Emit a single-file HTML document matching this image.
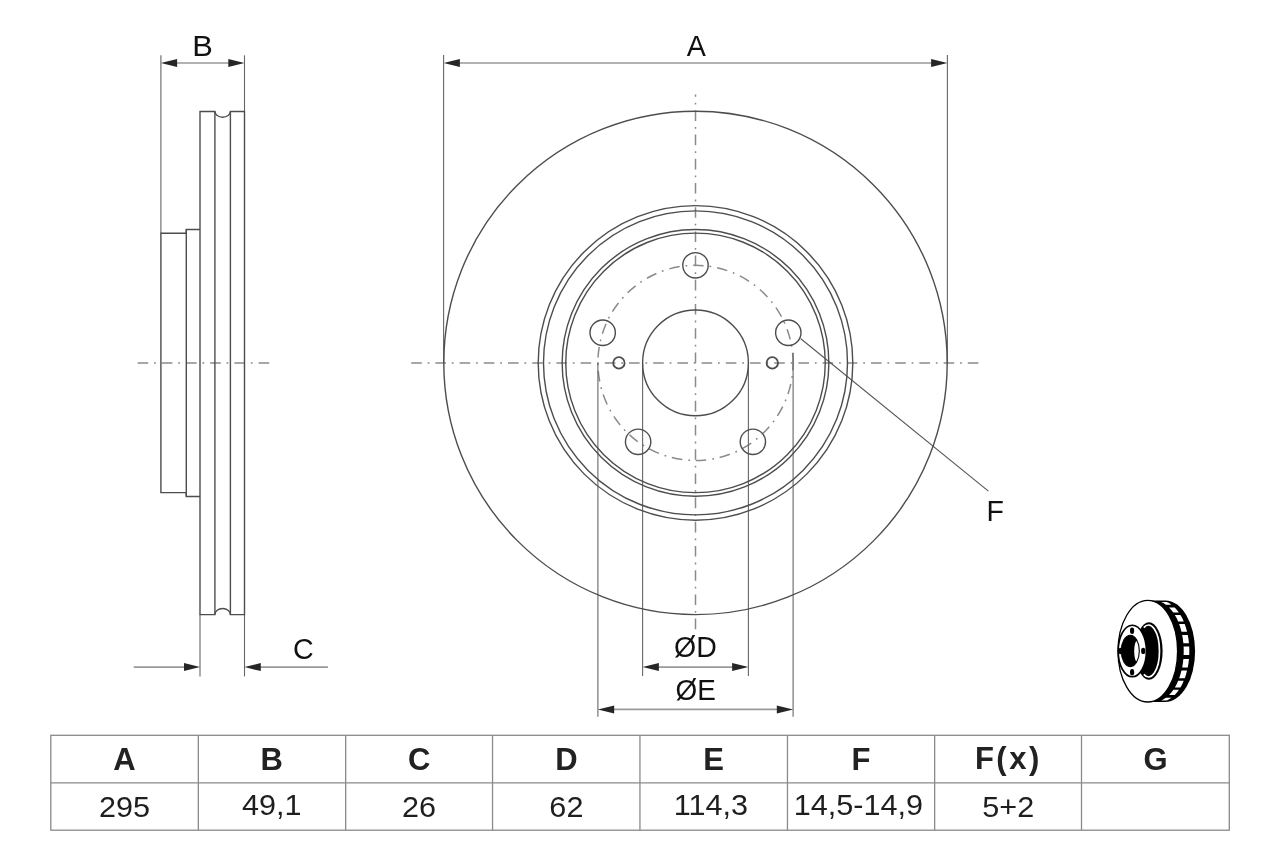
<!DOCTYPE html>
<html><head><meta charset="utf-8">
<style>
html,body{margin:0;padding:0;background:#fff;width:1280px;height:853px;overflow:hidden}
svg{display:block}
text{font-family:"Liberation Sans",sans-serif}
svg{will-change:transform}
</style></head>
<body>
<svg width="1280" height="853" viewBox="0 0 1280 853">
<rect width="1280" height="853" fill="#fff"/>

<!-- ===== centerlines ===== -->
<g stroke="#8a8a8a" stroke-width="1.5" fill="none" stroke-dasharray="10.6 5.8 1.8 6">
  <line x1="137.6" y1="363" x2="270" y2="363"/>
  <line x1="411.2" y1="363" x2="979" y2="363"/>
  <line x1="695.5" y1="629.2" x2="695.5" y2="94.5"/>
  <circle cx="695.5" cy="362.9" r="97.6" stroke-dashoffset="3"/>
</g>

<!-- ===== extension lines ===== -->
<g stroke="#666" stroke-width="1.1" fill="none">
  <line x1="160.9" y1="55.3" x2="160.9" y2="233.3"/>
  <line x1="244.5" y1="55.3" x2="244.5" y2="111.5"/>
  <line x1="200" y1="614.6" x2="200" y2="676.4"/>
  <line x1="244.5" y1="614.6" x2="244.5" y2="676.4"/>
  <line x1="443.6" y1="55" x2="443.6" y2="362.9"/>
  <line x1="947.4" y1="55" x2="947.4" y2="362.9"/>
  <line x1="642.6" y1="362.9" x2="642.6" y2="676"/>
  <line x1="748.4" y1="362.9" x2="748.4" y2="676"/>
  <line x1="597.9" y1="362.9" x2="597.9" y2="716.8"/>
  <line x1="793.1" y1="352.8" x2="793.1" y2="716.8"/>
  <line x1="800.8" y1="338.8" x2="988.4" y2="491.1" stroke="#555"/>
</g>

<!-- ===== dimension lines ===== -->
<g stroke="#999" stroke-width="1.6" fill="none">
  <line x1="170" y1="63" x2="236" y2="63"/>
  <line x1="452" y1="63" x2="939" y2="63"/>
  <line x1="133.7" y1="667.1" x2="192" y2="667.1"/>
  <line x1="252" y1="667.1" x2="327.9" y2="667.1"/>
  <line x1="650" y1="667.1" x2="741" y2="667.1"/>
  <line x1="605" y1="709.4" x2="786" y2="709.4"/>
</g>
<g fill="#262626">
  <!-- B -->
  <path d="M160.9 63 L177.1 59 L177.1 67 Z"/>
  <path d="M244.5 63 L228.3 59 L228.3 67 Z"/>
  <!-- A -->
  <path d="M443.6 63 L459.9 59 L459.9 67 Z"/>
  <path d="M947.4 63 L931.1 59 L931.1 67 Z"/>
  <!-- C -->
  <path d="M200 667.1 L184 663.1 L184 671.1 Z"/>
  <path d="M244.5 667.1 L260.8 663.1 L260.8 671.1 Z"/>
  <!-- D -->
  <path d="M642.6 667.1 L658.9 663.1 L658.9 671.1 Z"/>
  <path d="M748.4 667.1 L732.1 663.1 L732.1 671.1 Z"/>
  <!-- E -->
  <path d="M597.9 709.4 L614.2 705.4 L614.2 713.4 Z"/>
  <path d="M793.1 709.4 L776.8 705.4 L776.8 713.4 Z"/>
</g>

<!-- ===== main disc outlines ===== -->
<g stroke="#4d4d4d" stroke-width="1.4" fill="none">
  <circle cx="695.5" cy="362.9" r="251.7"/>
  <circle cx="695.5" cy="362.9" r="157.3"/>
  <circle cx="695.5" cy="362.9" r="152"/>
  <circle cx="695.5" cy="362.9" r="133.35"/>
  <circle cx="695.5" cy="362.9" r="129.75"/>
  <circle cx="695.5" cy="362.9" r="52.9"/>
  <circle cx="695.5" cy="265.3" r="12.7"/>
  <circle cx="788.32" cy="332.74" r="12.7"/>
  <circle cx="752.87" cy="441.86" r="12.7"/>
  <circle cx="638.13" cy="441.86" r="12.7"/>
  <circle cx="602.68" cy="332.74" r="12.7"/>
  <circle cx="618.9" cy="362.9" r="5.7" stroke-width="1.8"/>
  <circle cx="772.3" cy="362.9" r="5.7" stroke-width="1.8"/>
</g>

<!-- ===== side view ===== -->
<g stroke="#4d4d4d" stroke-width="1.4" fill="none">
  <path d="M200 111.5 H214.9 A7.75 5.7 0 0 0 230.4 111.5 H244.5 V614.6 H230.4 A7.75 6.1 0 0 0 214.9 614.6 H200 Z"/>
  <line x1="214.9" y1="111.5" x2="214.9" y2="614.6"/>
  <line x1="230.4" y1="111.5" x2="230.4" y2="614.6"/>
  <path d="M200 229.5 H186.3 V232.5 L185.6 233.3 H160.9 V492.6 H185.4 L186.3 493.5 V496.5 H200"/>
  <line x1="186.3" y1="229.5" x2="186.3" y2="496.5"/>
</g>

<!-- ===== labels ===== -->
<g fill="#111" font-size="30" text-anchor="middle">
  <text x="202.6" y="55.6" transform="matrix(1.03 0 0 1 -6.078 0)">B</text>
  <text x="696.3" y="55.7" transform="matrix(0.955 0 0 1 31.334 0)">A</text>
  <text x="303.3" y="658.7" transform="matrix(0.955 0 0 1 13.649 0)">C</text>
  <text x="995.3" y="520.8" transform="matrix(0.95 0 0 1 49.765 0)">F</text>
  <text x="695.5" y="656.8" transform="matrix(0.95 0 0 1 34.775 0)">ØD</text>
  <text x="695.6" y="699.9" transform="matrix(0.93 0 0 1 48.692 0)">ØE</text>
</g>

<!-- ===== 3D icon ===== -->
<g id="icon">
  <path d="M1147.8 600.4 H1165.3 A29.8 50.8 0 0 1 1165.3 702 H1147.8 Z" fill="#000"/>
  <path d="M1166.7 601.9 L1167.9 602.5 L1169.1 603.1 L1170.3 603.9 L1171.5 604.7 L1165.9 604.7 L1164.7 603.9 L1163.5 603.1 L1162.3 602.5 L1161.1 601.9Z M1174.7 607.5 L1175.8 608.7 L1176.9 609.9 L1177.9 611.2 L1178.9 612.6 L1173.3 612.6 L1172.3 611.2 L1171.3 609.9 L1170.2 608.7 L1169.1 607.5Z M1180.4 615.0 L1181.3 616.5 L1182.2 618.1 L1183.0 619.8 L1183.7 621.6 L1178.1 621.6 L1177.4 619.8 L1176.6 618.1 L1175.7 616.5 L1174.8 615.0Z M1184.7 624.1 L1185.4 625.9 L1186.0 627.8 L1186.5 629.8 L1187.1 631.8 L1181.5 631.8 L1180.9 629.8 L1180.4 627.8 L1179.8 625.9 L1179.1 624.1Z M1187.8 634.9 L1188.1 637.0 L1188.5 639.1 L1188.7 641.2 L1189.0 643.3 L1183.4 643.3 L1183.1 641.2 L1182.9 639.1 L1182.5 637.0 L1182.2 634.9Z M1189.2 646.4 L1189.3 648.6 L1189.3 650.8 L1189.3 652.9 L1189.2 655.1 L1183.6 655.1 L1183.7 652.9 L1183.7 650.8 L1183.7 648.6 L1183.6 646.4Z M1189.0 659.1 L1188.7 661.2 L1188.5 663.3 L1188.1 665.4 L1187.8 667.5 L1182.2 667.5 L1182.5 665.4 L1182.9 663.3 L1183.1 661.2 L1183.4 659.1Z M1187.1 670.6 L1186.5 672.6 L1186.0 674.6 L1185.4 676.5 L1184.7 678.3 L1179.1 678.3 L1179.8 676.5 L1180.4 674.6 L1180.9 672.6 L1181.5 670.6Z M1183.7 680.8 L1183.0 682.6 L1182.2 684.3 L1181.3 685.9 L1180.4 687.4 L1174.8 687.4 L1175.7 685.9 L1176.6 684.3 L1177.4 682.6 L1178.1 680.8Z M1178.9 689.8 L1177.9 691.2 L1176.9 692.5 L1175.8 693.7 L1174.7 694.9 L1169.1 694.9 L1170.2 693.7 L1171.3 692.5 L1172.3 691.2 L1173.3 689.8Z M1171.5 697.7 L1170.3 698.5 L1169.1 699.3 L1167.9 699.9 L1166.7 700.5 L1161.1 700.5 L1162.3 699.9 L1163.5 699.3 L1164.7 698.5 L1165.9 697.7Z" fill="#fff"/>
  <ellipse cx="1147.8" cy="651.2" rx="29.8" ry="50.8" fill="#fff" stroke="#000" stroke-width="1.3"/>
  <ellipse cx="1149" cy="651" rx="13.6" ry="28.7" fill="#000"/>
  <path d="M1143.82 627.63 A10.9 26.0 0 1 1 1143.82 674.37" fill="none" stroke="#fff" stroke-width="1.7"/>
  <ellipse cx="1132.3" cy="651" rx="14.1" ry="25.8" fill="#fff" stroke="#000" stroke-width="1.6"/>
  <ellipse cx="1130.3" cy="650.9" rx="9" ry="15.7" fill="#000"/>
  <ellipse cx="1136.8" cy="651.3" rx="2.6" ry="10.2" fill="#fff"/>
  <ellipse cx="1130.3" cy="650.9" rx="9" ry="15.7" fill="none" stroke="#000" stroke-width="1.1"/>
  <g fill="#000">
    <ellipse cx="1132.1" cy="630.7" rx="2.1" ry="3.2"/>
    <ellipse cx="1143.2" cy="650.9" rx="2.1" ry="3.2"/>
    <ellipse cx="1132.1" cy="672.2" rx="2.1" ry="3.2"/>
    <ellipse cx="1120.6" cy="651" rx="2.1" ry="3.2"/>
  </g>
</g>

<!-- ===== table ===== -->
<g stroke="#8a8a8a" stroke-width="1.3" fill="none">
  <rect x="50.8" y="735.3" width="1178.5" height="94.9"/>
  <line x1="50.8" y1="782.9" x2="1229.3" y2="782.9"/>
  <line x1="198.35" y1="735.3" x2="198.35" y2="830.2"/>
  <line x1="345.65" y1="735.3" x2="345.65" y2="830.2"/>
  <line x1="492.55" y1="735.3" x2="492.55" y2="830.2"/>
  <line x1="639.95" y1="735.3" x2="639.95" y2="830.2"/>
  <line x1="787.45" y1="735.3" x2="787.45" y2="830.2"/>
  <line x1="934.65" y1="735.3" x2="934.65" y2="830.2"/>
  <line x1="1081.5" y1="735.3" x2="1081.5" y2="830.2"/>
</g>
<g fill="#222" font-size="31" font-weight="bold" text-anchor="middle">
  <text x="124.5" y="770.3">A</text>
  <text x="271.8" y="770.3">B</text>
  <text x="419.1" y="770.3">C</text>
  <text x="566.4" y="770.3">D</text>
  <text x="713.7" y="770.3">E</text>
  <text x="861" y="770.3">F</text>
  <text x="1008.3" y="768.6" letter-spacing="2.5">F(x)</text>
  <text x="1155.6" y="770.3">G</text>
</g>
<g fill="#1e1e1e" font-size="29" text-anchor="middle">
  <text x="124.5" y="816.9" transform="matrix(1.055 0 0 1 -6.847 0)">295</text>
  <text x="271.8" y="814.6" transform="matrix(1.055 0 0 1 -14.949 0)">49,1</text>
  <text x="419.1" y="816.9" transform="matrix(1.055 0 0 1 -23.050 0)">26</text>
  <text x="566.4" y="816.9" transform="matrix(1.055 0 0 1 -31.152 0)">62</text>
  <text x="710.9" y="814.9" transform="matrix(1.055 0 0 1 -39.149 0)">114,3</text>
  <text x="858.4" y="815.4" transform="matrix(1.055 0 0 1 -47.212 0)">14,5-14,9</text>
  <text x="1008.3" y="816.9" transform="matrix(1.055 0 0 1 -55.456 0)">5+2</text>
</g>
</svg>
</body></html>
